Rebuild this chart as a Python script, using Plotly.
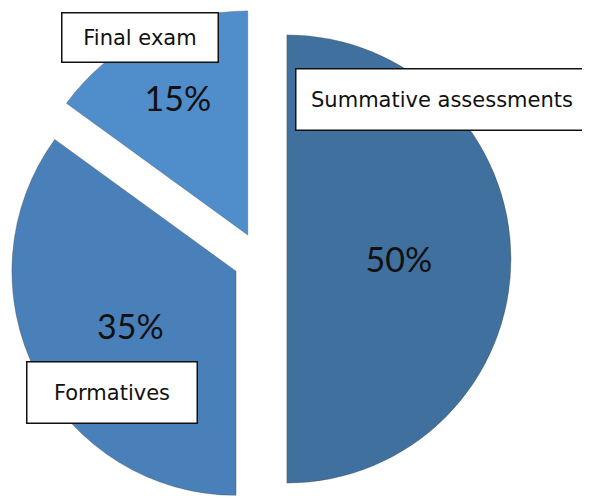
import plotly.graph_objects as go

categories = ["Summative assessments", "Formatives", "Final exam"]
weights = [50, 35, 15]
slice_colors = ["#40709D", "#4A80BA", "#4F8DCB"]
pulls = [0.12, 0.12, 0.12]

# the page body adds an 8px offset; coordinates below are screen px
OFF = 8
W, H = 590, 510

fig = go.Figure()
fig.add_trace(go.Pie(
    labels=categories,
    values=weights,
    sort=False,
    direction="clockwise",
    rotation=0,
    pull=pulls,
    marker=dict(colors=slice_colors, line=dict(width=1, color="rgba(70,70,70,0.35)")),
    textinfo="percent",
    texttemplate="%{percent:.0%}",
    textposition="inside",
    insidetextorientation="horizontal",
    insidetextfont=dict(family="Lato", size=34, color="#111111"),
    domain=dict(x=[0, 0.8542], y=[0.0157, 1]),
    showlegend=False,
    hoverinfo="label+percent",
))

boxes = [
    # label, left, top, width, height (screen px)
    ("Final exam", 61, 12, 157, 50),
    ("Summative assessments", 295, 68, 293, 62),
    ("Formatives", 26, 361, 171, 62),
]
for text, left, top, w, h in boxes:
    fig.add_annotation(
        text=text, xref="paper", yref="paper",
        x=(left - OFF) / W, y=1 - (top - OFF) / H, xanchor="left", yanchor="top",
        width=w - 2, height=h - 2, align="center", valign="middle",
        showarrow=False, bgcolor="white", bordercolor="#111111",
        borderwidth=1.5, borderpad=0,
        font=dict(family="DejaVu Sans", size=21, color="#111111"),
    )

fig.update_layout(
    width=W, height=H,
    margin=dict(l=0, r=0, t=0, b=0),
    paper_bgcolor="white", plot_bgcolor="white",
)
fig.write_html("out.html")
